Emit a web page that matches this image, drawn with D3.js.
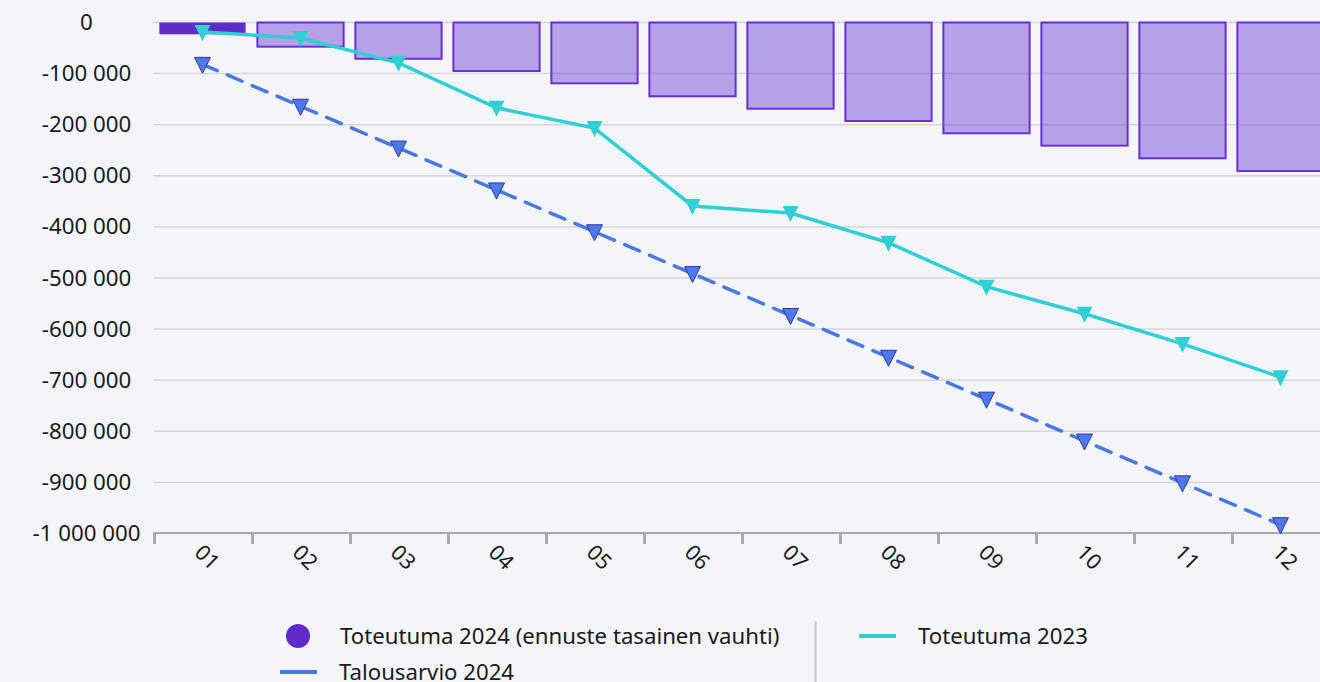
<!DOCTYPE html>
<html>
<head>
<meta charset="utf-8">
<script src="https://cdn.jsdelivr.net/npm/d3@7"></script>
<style>
  html, body { margin: 0; padding: 0; background: #f4f5f9; overflow: hidden; }
  svg { display: block; font-family: "Noto Sans", "Open Sans", sans-serif; }
</style>
</head>
<body>
<div id="chart"></div>
<script>
// months on the x axis
const months = ['01', '02', '03', '04', '05', '06', '07', '08', '09', '10', '11', '12'];

// bars: Toteutuma 2024 (ennuste tasainen vauhti)
const toteutuma2024 = [-23100, -47300, -71000, -94900, -119000, -144400, -168700, -192800, -216800, -241000, -265800, -290600];

// solid teal line: Toteutuma 2023
const toteutuma2023 = [-18600, -30300, -79000, -167000, -206500, -359000, -373000, -431000, -517000, -570000, -629000, -694000];

// dashed blue line: Talousarvio 2024
const talousarvio2024 = [-81900, -163800, -245700, -327600, -409500, -491400, -573300, -655200, -737100, -819000, -900900, -982800];

const yTicks = [0, -100000, -200000, -300000, -400000, -500000, -600000, -700000, -800000, -900000, -1000000];

const legendItems = [
    { label: 'Toteutuma 2024 (ennuste tasainen vauhti)', type: 'circle', color: '#5f2bc9', x: 286, y: 636 },
    { label: 'Talousarvio 2024', type: 'line', color: '#4a78e0', x: 280, y: 672 },
    { label: 'Toteutuma 2023', type: 'line', color: '#30cfd4', x: 859, y: 636 }
];

const W = 1320, H = 682;
const svg = d3.select('#chart').append('svg')
    .attr('width', W)
    .attr('height', H);

const x = d3.scaleBand()
    .domain(months)
    .range([153.5, 1329.5])
    .paddingInner(0.12)
    .paddingOuter(0.06);

const y = d3.scaleLinear()
    .domain([-1000000, 0])
    .range([533.5, 22.5]);

const fmt = v => d3.format(',')(v).replace(/,/g, ' ').replace('−', '-');

// gridlines
svg.append('g')
    .selectAll('line')
    .data(yTicks.slice(0, -1))
    .join('line')
    .attr('x1', 153.5)
    .attr('x2', W)
    .attr('y1', d => y(d))
    .attr('y2', d => y(d))
    .attr('stroke', '#d5d6da')
    .attr('stroke-width', 1.5);

// y labels (centered in the left margin)
svg.append('g')
    .selectAll('text')
    .data(yTicks)
    .join('text')
    .attr('x', 86.5)
    .attr('y', d => y(d))
    .attr('dy', '0.34em')
    .attr('text-anchor', 'middle')
    .attr('font-size', 22.3)
    .attr('fill', '#1a1a1a')
    .text(d => fmt(d));

// bars
svg.append('g')
    .selectAll('rect')
    .data(toteutuma2024)
    .join('rect')
    .attr('x', (d, i) => x(months[i]))
    .attr('y', y(0))
    .attr('width', x.bandwidth())
    .attr('height', d => y(d) - y(0))
    .attr('fill', (d, i) => i === 0 ? '#5f2bc9' : 'rgba(108, 58, 212, 0.46)')
    .attr('stroke', (d, i) => i === 0 ? 'none' : '#6733d3')
    .attr('stroke-width', 2);

// x axis
const xAxisG = svg.append('g');
xAxisG.append('line')
    .attr('x1', 153.5)
    .attr('x2', W)
    .attr('y1', 533)
    .attr('y2', 533)
    .attr('stroke', '#a9a9ad')
    .attr('stroke-width', 2);

const tickPos = months.map(m => x(m) - x.step() * x.paddingOuter());
xAxisG.selectAll('.tick')
    .data(tickPos)
    .join('line')
    .attr('class', 'tick')
    .attr('x1', d => d + 1)
    .attr('x2', d => d + 1)
    .attr('y1', 533)
    .attr('y2', 544)
    .attr('stroke', '#a9a9ad')
    .attr('stroke-width', 3);

xAxisG.selectAll('text')
    .data(months)
    .join('text')
    .attr('transform', d => `translate(${x(d) + x.bandwidth() / 2 + 5},${557}) rotate(45)`)
    .attr('text-anchor', 'middle')
    .attr('dy', '0.36em')
    .attr('font-size', 21.5)
    .attr('fill', '#1a1a1a')
    .text(d => d);

const cx = i => x(months[i]) + x.bandwidth() / 2;

// Toteutuma 2023 line
const line = d3.line()
    .x((d, i) => cx(i))
    .y(d => y(d));

svg.append('path')
    .datum(toteutuma2023)
    .attr('d', line)
    .attr('fill', 'none')
    .attr('stroke', '#30cfd4')
    .attr('stroke-width', 3.5);

svg.append('g')
    .selectAll('path')
    .data(toteutuma2023)
    .join('path')
    .attr('d', 'M-8,-7L8,-7L0,9Z')
    .attr('transform', (d, i) => `translate(${cx(i)},${y(d)})`)
    .attr('fill', '#30cfd4');

// Talousarvio 2024 dashed line
svg.append('path')
    .datum(talousarvio2024)
    .attr('d', line)
    .attr('fill', 'none')
    .attr('stroke', '#4a78e0')
    .attr('stroke-width', 3.5)
    .attr('stroke-dasharray', '16,11')
    .attr('stroke-linecap', 'round');

svg.append('g')
    .selectAll('path')
    .data(talousarvio2024)
    .join('path')
    .attr('d', 'M-8,-7L8,-7L0,9Z')
    .attr('transform', (d, i) => `translate(${cx(i)},${y(d)})`)
    .attr('fill', '#4f79e8')
    .attr('stroke', '#2a3aa6')
    .attr('stroke-width', 1);

// legend
const legend = svg.append('g');
legendItems.forEach(item => {
    if (item.type === 'circle') {
        legend.append('circle')
            .attr('cx', item.x + 12)
            .attr('cy', item.y)
            .attr('r', 12)
            .attr('fill', item.color);
    } else {
        legend.append('line')
            .attr('x1', item.x)
            .attr('x2', item.x + 37)
            .attr('y1', item.y)
            .attr('y2', item.y)
            .attr('stroke', item.color)
            .attr('stroke-width', 4);
    }
    legend.append('text')
        .attr('x', item.type === 'circle' ? 340 : item.x + 59)
        .attr('y', item.y)
        .attr('dy', '0.36em')
        .attr('font-size', 22.2)
        .attr('fill', '#1a1a1a')
        .text(item.label);
});

legend.append('line')
    .attr('x1', 815.5)
    .attr('x2', 815.5)
    .attr('y1', 621)
    .attr('y2', H)
    .attr('stroke', '#c6c6c8')
    .attr('stroke-width', 2);
</script>
</body>
</html>
